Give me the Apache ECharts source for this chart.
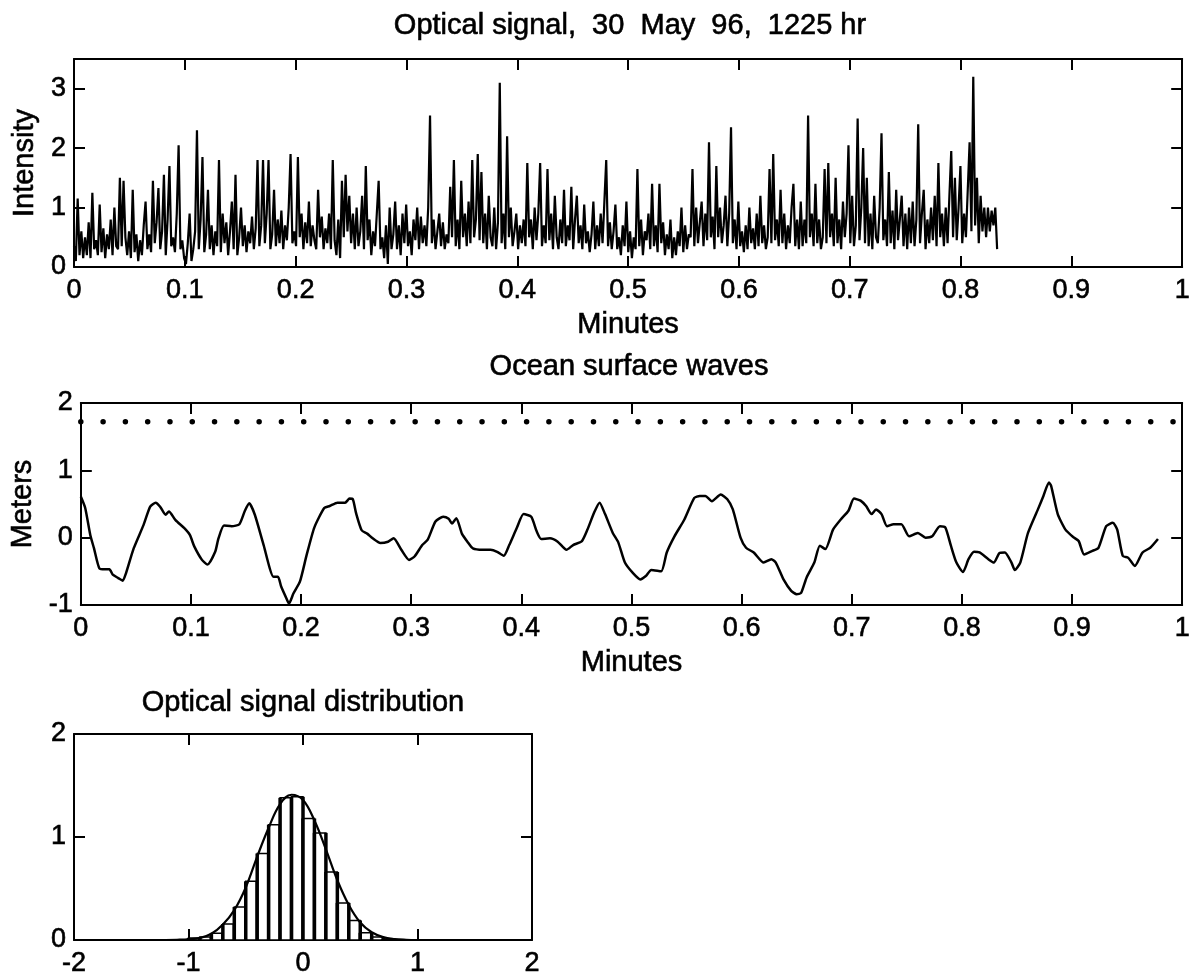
<!DOCTYPE html>
<html>
<head>
<meta charset="utf-8">
<script src="https://cdn.jsdelivr.net/npm/echarts@6/dist/echarts.min.js"></script>
<style>
  html, body { margin: 0; padding: 0; background: #fff; }
  #box { width: 1193px; height: 980px; }
</style>
</head>
<body>
<div id="box"></div>
<script>
var chart = echarts.init(document.getElementById('box'));

// optical signal (each row ~0.01 minute)
var signalRows = [
  [0.35, 0.1, 1.15, 0.2, 0.6, 0.15],
  [0.5, 0.2, 0.75, 0.15, 1.25, 0.3],
  [0.45, 0.2, 1.05, 0.25, 0.65, 0.15],
  [0.55, 0.3, 0.8, 0.2, 1.0, 0.35],
  [0.3, 1.5, 0.35, 1.45, 0.5, 0.2],
  [0.6, 0.15, 1.3, 0.25, 0.55, 0.1],
  [0.45, 0.2, 0.7, 1.1, 0.3, 0.55],
  [0.25, 1.45, 0.4, 0.75, 1.33, 0.3],
  [0.6, 1.55, 0.2, 0.8, 1.7, 0.35],
  [0.5, 0.25, 0.9, 2.05, 0.3, 0.45],
  [0.15, 0.05, 0.4, 0.9, 0.1, 0.3],
  [0.6, 2.3, 0.3, 0.8, 1.85, 0.25],
  [0.55, 1.3, 0.3, 0.7, 0.2, 0.6],
  [0.35, 1.8, 0.25, 0.9, 0.4, 0.75],
  [0.2, 0.6, 1.1, 0.3, 1.55, 0.2],
  [0.5, 1.0, 0.35, 0.7, 0.25, 0.6],
  [0.4, 0.85, 0.3, 0.65, 1.8, 0.35],
  [0.7, 1.8, 0.4, 0.9, 1.8, 0.3],
  [0.55, 1.3, 0.35, 0.8, 0.4, 0.95],
  [0.3, 0.7, 0.45, 1.0, 1.9, 0.4],
  [0.6, 0.35, 1.85, 0.5, 0.9, 0.3],
  [0.75, 0.4, 1.1, 0.35, 0.7, 0.45],
  [0.3, 1.3, 0.5, 0.85, 0.3, 0.65],
  [0.4, 0.9, 0.3, 1.8, 0.45, 0.2],
  [0.8, 0.15, 1.45, 0.5, 1.55, 0.6],
  [1.2, 0.4, 0.9, 0.3, 1.0, 0.35],
  [0.6, 1.2, 0.3, 1.7, 0.45, 0.8],
  [0.2, 0.6, 0.35, 0.9, 1.45, 0.3],
  [0.5, 0.15, 0.7, 0.05, 1.0, 0.3],
  [0.55, 1.1, 0.3, 0.7, 0.2, 0.9],
  [0.4, 1.05, 0.35, 0.6, 0.2, 0.8],
  [0.45, 1.0, 0.3, 0.85, 0.4, 0.7],
  [0.35, 1.0, 2.55, 0.4, 0.8, 0.3],
  [0.6, 0.9, 0.35, 0.75, 0.3, 0.55],
  [0.4, 1.35, 0.5, 1.8, 0.35, 0.8],
  [0.3, 1.45, 0.5, 0.9, 0.35, 1.1],
  [0.4, 1.8, 0.5, 0.8, 1.9, 0.45],
  [1.6, 0.4, 0.9, 0.3, 1.2, 0.5],
  [0.35, 1.0, 0.3, 0.75, 3.1, 0.4],
  [0.9, 0.3, 2.2, 0.5, 1.0, 0.35],
  [0.6, 0.9, 0.3, 0.7, 0.4, 0.8],
  [0.35, 1.75, 0.5, 0.8, 0.3, 1.0],
  [0.45, 0.9, 1.75, 0.35, 0.7, 0.4],
  [1.65, 0.45, 0.9, 0.3, 1.2, 0.5],
  [0.3, 0.8, 0.4, 1.3, 0.35, 0.7],
  [0.45, 1.35, 0.3, 0.8, 1.2, 0.4],
  [0.7, 0.3, 1.05, 0.4, 0.6, 0.25],
  [0.55, 1.1, 0.3, 0.7, 0.35, 0.9],
  [0.4, 1.1, 1.8, 0.35, 0.75, 0.3],
  [0.6, 1.05, 0.3, 0.5, 0.2, 0.7],
  [0.35, 1.1, 0.25, 0.6, 0.15, 0.5],
  [0.3, 1.65, 0.35, 0.8, 0.2, 0.6],
  [0.45, 0.9, 0.3, 1.4, 0.35, 0.7],
  [0.25, 1.4, 0.4, 0.75, 0.2, 0.55],
  [0.3, 0.8, 0.15, 0.5, 0.2, 0.6],
  [0.35, 1.0, 0.25, 0.7, 0.3, 0.55],
  [0.5, 1.65, 0.35, 1.0, 0.4, 0.75],
  [1.1, 0.35, 0.9, 0.45, 2.1, 0.5],
  [0.85, 0.3, 1.7, 0.5, 1.0, 0.4],
  [0.7, 1.2, 0.35, 0.9, 2.35, 0.4],
  [0.8, 0.3, 1.1, 0.35, 0.6, 0.25],
  [0.7, 0.3, 1.0, 0.4, 0.65, 0.3],
  [0.9, 0.35, 1.2, 0.4, 0.7, 0.3],
  [0.5, 1.65, 0.4, 1.9, 0.45, 0.8],
  [0.35, 1.3, 0.4, 0.9, 0.3, 0.7],
  [0.4, 1.0, 1.4, 0.35, 0.8, 0.3],
  [1.1, 0.35, 0.8, 0.4, 2.55, 0.5],
  [0.9, 0.35, 1.4, 0.4, 0.8, 0.3],
  [0.5, 1.65, 0.4, 1.75, 0.5, 0.9],
  [0.35, 1.5, 0.4, 0.8, 0.3, 1.1],
  [0.5, 0.9, 2.05, 0.4, 1.2, 0.35],
  [0.7, 2.5, 0.45, 1.0, 2.0, 0.4],
  [1.5, 0.35, 0.9, 0.3, 1.2, 0.5],
  [0.4, 1.0, 2.25, 0.45, 0.8, 0.35],
  [1.6, 0.4, 0.95, 0.3, 1.3, 0.45],
  [0.8, 1.2, 0.35, 0.9, 0.3, 1.0],
  [0.4, 1.1, 0.35, 0.8, 2.4, 0.4],
  [0.9, 1.3, 0.3, 0.8, 0.4, 1.0],
  [0.45, 1.2, 0.35, 1.75, 0.5, 0.9],
  [0.35, 1.0, 0.4, 1.2, 1.95, 0.5],
  [1.5, 0.45, 1.0, 1.7, 0.4, 0.9],
  [0.5, 1.3, 2.1, 0.6, 3.2, 0.7],
  [1.5, 0.4, 1.2, 0.6, 1.0, 0.5],
  [1.0, 0.6, 0.95, 0.7, 1.0, 0.3]
];
var signalEnd = 0.833; // minutes, where the record stops

// ocean surface waves [minutes, meters]
var wavePoints = [
  [0, 0.61], [0.004, 0.44], [0.0086, 0.04], [0.012, -0.16], [0.017, -0.46], [0.022, -0.47],
  [0.026, -0.47], [0.029, -0.55], [0.034, -0.6], [0.038, -0.64], [0.041, -0.53], [0.048, -0.16],
  [0.057, 0.19], [0.063, 0.46], [0.068, 0.52], [0.072, 0.46], [0.077, 0.34], [0.080, 0.39],
  [0.086, 0.26], [0.094, 0.14], [0.099, 0.04], [0.103, -0.13], [0.110, -0.33], [0.115, -0.4],
  [0.122, -0.21], [0.125, -0.01], [0.130, 0.18], [0.137, 0.17], [0.144, 0.2], [0.149, 0.4],
  [0.153, 0.51], [0.158, 0.34], [0.166, -0.11], [0.175, -0.58], [0.179, -0.58], [0.182, -0.73],
  [0.188, -0.95], [0.189, -0.98], [0.193, -0.83], [0.199, -0.65], [0.205, -0.26], [0.212, 0.15],
  [0.221, 0.44], [0.226, 0.47], [0.233, 0.52], [0.240, 0.52], [0.244, 0.58], [0.247, 0.57],
  [0.250, 0.36], [0.255, 0.11], [0.260, 0.06], [0.265, -0.01], [0.272, -0.08], [0.279, -0.06],
  [0.284, -0.01], [0.291, -0.18], [0.298, -0.33], [0.303, -0.28], [0.310, -0.11], [0.315, -0.03],
  [0.322, 0.24], [0.329, 0.31], [0.334, 0.28], [0.337, 0.21], [0.341, 0.29], [0.346, 0.06],
  [0.351, -0.06], [0.356, -0.16], [0.365, -0.18], [0.372, -0.18], [0.378, -0.21], [0.384, -0.27],
  [0.389, -0.11], [0.396, 0.15], [0.402, 0.35], [0.409, 0.31], [0.414, 0.09], [0.418, -0.02],
  [0.426, -0.01], [0.433, -0.06], [0.441, -0.18], [0.447, -0.11], [0.455, -0.05], [0.460, 0.12],
  [0.466, 0.37], [0.471, 0.52], [0.476, 0.35], [0.483, 0.07], [0.488, -0.07], [0.494, -0.37],
  [0.501, -0.52], [0.508, -0.62], [0.513, -0.57], [0.518, -0.48], [0.527, -0.5], [0.532, -0.22],
  [0.539, 0.02], [0.548, 0.27], [0.557, 0.59], [0.562, 0.62], [0.567, 0.62], [0.573, 0.54],
  [0.581, 0.64], [0.587, 0.57], [0.592, 0.42], [0.599, 0.0], [0.604, -0.15], [0.611, -0.22],
  [0.620, -0.37], [0.627, -0.32], [0.631, -0.37], [0.638, -0.62], [0.645, -0.79], [0.650, -0.84],
  [0.654, -0.82], [0.659, -0.59], [0.666, -0.37], [0.671, -0.12], [0.676, -0.17], [0.683, 0.12],
  [0.690, 0.27], [0.697, 0.4], [0.702, 0.58], [0.708, 0.55], [0.713, 0.47], [0.718, 0.35],
  [0.722, 0.42], [0.727, 0.35], [0.732, 0.17], [0.738, 0.2], [0.745, 0.2], [0.752, 0.02],
  [0.760, 0.07], [0.767, 0.0], [0.773, 0.02], [0.780, 0.17], [0.785, 0.15], [0.790, -0.12],
  [0.795, -0.37], [0.801, -0.51], [0.806, -0.32], [0.811, -0.21], [0.816, -0.22], [0.824, -0.32],
  [0.829, -0.37], [0.834, -0.23], [0.839, -0.22], [0.845, -0.37], [0.848, -0.48], [0.853, -0.37],
  [0.860, 0.07], [0.869, 0.42], [0.874, 0.62], [0.879, 0.82], [0.881, 0.77], [0.887, 0.35],
  [0.894, 0.12], [0.901, 0.01], [0.906, -0.05], [0.911, -0.25], [0.918, -0.2], [0.924, -0.15],
  [0.931, 0.17], [0.937, 0.22], [0.941, 0.12], [0.946, -0.27], [0.951, -0.3], [0.957, -0.42],
  [0.964, -0.22], [0.971, -0.15], [0.978, -0.02]
];
var waveLevel = 1.72; // dotted reference level

// histogram of the optical signal
var binWidth = 0.1;
var binLeft = [-1.0, -0.9, -0.8, -0.7, -0.6, -0.5, -0.4, -0.3, -0.2, -0.1, 0.0, 0.1, 0.2, 0.3, 0.4, 0.5, 0.6, 0.7];
var binHeight = [0.02, 0.03, 0.065, 0.155, 0.32, 0.57, 0.84, 1.12, 1.38, 1.39, 1.18, 1.04, 0.66, 0.36, 0.19, 0.07, 0.03, 0.01];
var fitX = [-1.2, -1.1, -1.0, -0.9, -0.8, -0.7, -0.6, -0.5, -0.4, -0.3, -0.2, -0.1, 0.0, 0.1, 0.2, 0.3, 0.4, 0.5, 0.6, 0.7, 0.8, 0.9, 1.0];
var fitY = [0.0, 0.002, 0.007, 0.02, 0.06, 0.15, 0.29, 0.51, 0.81, 1.09, 1.32, 1.41, 1.36, 1.16, 0.88, 0.58, 0.34, 0.17, 0.075, 0.028, 0.009, 0.002, 0.0];

// build series data
var signalVals = [];
signalRows.forEach(function (r) { signalVals = signalVals.concat(r); });
var signalData = signalVals.map(function (v, i) {
  return [i * signalEnd / (signalVals.length - 1), v];
});
var histData = binLeft.map(function (x, i) { return [x, x + binWidth, binHeight[i]]; });
var fitData = fitX.map(function (x, i) { return [x, fitY[i]]; });

var FONT = "'Liberation Sans', Arial, sans-serif";
var ink = '#000';

function frameAxis(gridIndex, pos, extra) {
  var a = {
    gridIndex: gridIndex,
    type: 'value',
    position: pos,
    axisLine: { show: true, onZero: false, lineStyle: { color: ink, width: 2 } },
    axisTick: { show: true, inside: true, length: 11, lineStyle: { color: ink, width: 2 } },
    axisLabel: { show: false },
    splitLine: { show: false }
  };
  return Object.assign(a, extra);
}
// scanned print: text looks a little heavier than plain Arial
function lbl(margin) {
  return { show: true, color: ink, fontFamily: FONT, fontSize: 27, margin: margin, showMaxLabel: true,
    textBorderColor: ink, textBorderWidth: 0.6 };
}
var nameStyle = { color: ink, fontFamily: FONT, fontSize: 29, textBorderColor: ink, textBorderWidth: 0.6 };
function titleText(x, y, s) {
  return { type: 'text', x: x, y: y, style: { text: s, fill: ink, font: '29px ' + FONT, textAlign: 'center',
    textVerticalAlign: 'middle', stroke: ink, lineWidth: 0.6 } };
}

option = {
  animation: false,
  backgroundColor: '#fff',
  grid: [
    { left: 74, top: 59, width: 1114, height: 208 },
    { left: 73, top: 403, width: 1114, height: 202 },
    { left: 74, top: 734, width: 458, height: 206 }
  ],
  graphic: [
    titleText(630, 26, 'Optical signal,  30  May  96,  1225 hr'),
    titleText(629, 367, 'Ocean surface waves'),
    titleText(303, 703, 'Optical signal distribution')
  ],
  xAxis: [
    frameAxis(0, 'bottom', { min: 0, max: 1, interval: 0.1, axisLabel: lbl(10),
      name: 'Minutes', nameLocation: 'middle', nameGap: 43, nameTextStyle: nameStyle }),
    frameAxis(0, 'top', { min: 0, max: 1, interval: 0.1 }),
    frameAxis(1, 'bottom', { min: 0, max: 1, interval: 0.1, axisLabel: lbl(10),
      name: 'Minutes', nameLocation: 'middle', nameGap: 43, nameTextStyle: nameStyle }),
    frameAxis(1, 'top', { min: 0, max: 1, interval: 0.1 }),
    frameAxis(2, 'bottom', { min: -2, max: 2, interval: 1, axisLabel: lbl(10) }),
    frameAxis(2, 'top', { min: -2, max: 2, interval: 1 })
  ],
  yAxis: [
    frameAxis(0, 'left', { min: 0, max: 3.5, interval: 1,
      axisLabel: Object.assign(lbl(8), { showMaxLabel: false }),
      name: 'Intensity', nameLocation: 'middle', nameGap: 33, nameTextStyle: nameStyle }),
    frameAxis(0, 'right', { min: 0, max: 3.5, interval: 1 }),
    frameAxis(1, 'left', { min: -1, max: 2, interval: 1, axisLabel: lbl(8),
      name: 'Meters', nameLocation: 'middle', nameGap: 40, nameTextStyle: nameStyle }),
    frameAxis(1, 'right', { min: -1, max: 2, interval: 1 }),
    frameAxis(2, 'left', { min: 0, max: 2, interval: 1, axisLabel: lbl(8) }),
    frameAxis(2, 'right', { min: 0, max: 2, interval: 1 })
  ],
  series: [
    {
      name: 'Optical signal',
      type: 'line',
      xAxisIndex: 0, yAxisIndex: 0,
      data: signalData,
      showSymbol: false,
      lineStyle: { color: ink, width: 2.2 },
      clip: true
    },
    {
      name: 'Waves',
      type: 'line',
      xAxisIndex: 2, yAxisIndex: 2,
      data: wavePoints,
      showSymbol: false,
      smooth: 0.2,
      lineStyle: { color: ink, width: 2.5 }
    },
    {
      name: 'Level',
      type: 'line',
      xAxisIndex: 2, yAxisIndex: 2,
      data: [[0, waveLevel], [1, waveLevel]],
      showSymbol: false,
      lineStyle: { color: ink, width: 5.5, type: [0.01, 22.28], cap: 'round' }
    },
    {
      name: 'Histogram',
      type: 'custom',
      xAxisIndex: 4, yAxisIndex: 4,
      data: histData,
      encode: { x: [0, 1], y: 2 },
      renderItem: function (params, api) {
        var a = api.coord([api.value(0), api.value(2)]);
        var b = api.coord([api.value(1), 0]);
        return {
          type: 'group',
          children: [
            { type: 'rect', shape: { x: a[0], y: a[1], width: b[0] - a[0], height: b[1] - a[1] },
              style: { fill: '#fff', stroke: ink, lineWidth: 1.5 } },
            { type: 'line', shape: { x1: a[0], y1: a[1], x2: a[0], y2: b[1] }, style: { stroke: ink, lineWidth: 3.5 } },
            { type: 'line', shape: { x1: b[0], y1: a[1], x2: b[0], y2: b[1] }, style: { stroke: ink, lineWidth: 3.5 } }
          ]
        };
      }
    },
    {
      name: 'Fit',
      type: 'line',
      xAxisIndex: 4, yAxisIndex: 4,
      data: fitData,
      showSymbol: false,
      smooth: 0.4,
      lineStyle: { color: ink, width: 2.2 }
    }
  ]
};

chart.setOption(option);
</script>
</body>
</html>
